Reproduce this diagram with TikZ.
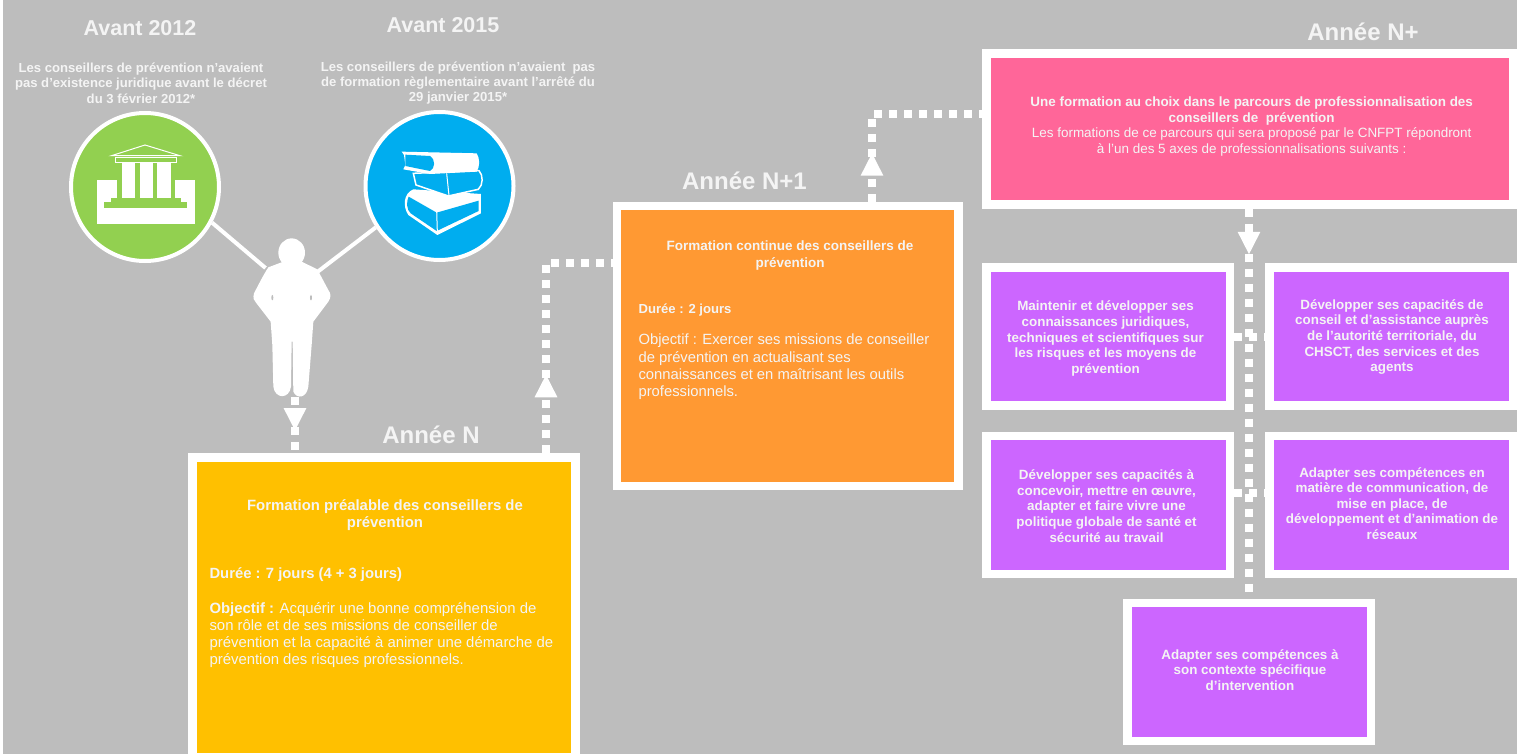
\documentclass[tikz,border=0pt]{standalone}
\usepackage{xcolor}
\usepackage{fontspec}
\setmainfont{Liberation Sans}
\usetikzlibrary{arrows.meta,decorations.markings}

\definecolor{fond}{HTML}{BDBDBD}
\definecolor{clair}{HTML}{F4F4F4}
\definecolor{vert}{HTML}{92D050}
\definecolor{bleu}{HTML}{00ADEF}
\definecolor{jaune}{HTML}{FFC000}
\definecolor{orange}{HTML}{FF9933}
\definecolor{rose}{HTML}{FF6699}
\definecolor{violet}{HTML}{CC66FF}

\tikzset{
    boite/.style={draw=white, line width=8.5pt, inner sep=0pt},
    axe/.style={boite, fill=violet, minimum width=243.5pt, minimum height=138pt},
    rond/.style={circle, draw=white, line width=4pt, inner sep=0pt, minimum size=148pt},
    lien/.style={white, line width=4pt},
    pointille/.style={white, line width=8pt, dash pattern=on 8pt off 7pt},
    fleche/.style={postaction={decorate}, decoration={markings,
        mark=at position #1 with {\arrow{Triangle[length=23pt,width=21pt]}}}},
    annee/.style={text=clair, font=\fontsize{24}{28}\selectfont\bfseries},
    avant/.style={text=clair, font=\fontsize{21.5}{24}\selectfont\bfseries},
    intro/.style={text=clair, align=center, font=\fontsize{13.1}{15.4}\selectfont\bfseries},
    titre/.style={text=clair, align=center, font=\fontsize{#1}{17}\selectfont\bfseries},
    corps/.style={text=clair, anchor=west, align=left, font=\fontsize{14.9}{17.2}\selectfont},
    axetxt/.style={text=clair, align=center, font=\fontsize{13.4}{15.6}\selectfont\bfseries}
}

\begin{document}
\begin{tikzpicture}[x=1pt,y=-1pt]
\useasboundingbox (0,0) rectangle (1517,754);
\fill[fond] (0,0) rectangle (1517,754);
\fill[white] (0,0) rectangle (3,754);

% Titres
\node[avant] (t2012) at (140,28) {Avant 2012};
\node[avant] (t2015) at (443,25) {Avant 2015};
\node[intro] (txt2012) at (141,83) {Les conseillers de prévention n'avaient\\pas d'existence juridique avant le décret\\du 3 février 2012*};
\node[intro] (txt2015) at (458,83) {Les conseillers de prévention n'avaient\ \ pas\\de formation règlementaire avant l'arrêté du\\29 janvier 2015*};

% Cercles
\node[rond, fill=vert] (cvert) at (145,187) {};
\node[rond, fill=bleu] (cbleu) at (439.5,186) {};

% Batiment
\fill[white] (97,180) rectangle (195,224);
\fill[vert] (116.5,163) rectangle (175,198.5);
\foreach \x in {121.5,139.5,157}
    \fill[white] (\x,163) rectangle (\x+13.5,198.5);
\fill[vert] (111,198.5) rectangle (181,202);
\fill[vert] (104,202) rectangle (187,207.5);
\draw[white, line width=1pt, fill=vert] (115.5,158) rectangle (176.5,163);
\draw[white, line width=1pt] (145,145) -- (111.5,155.7) -- (180,155.7) -- cycle;

% Livres
\begin{scope}[shift={(380,130)},x=0.3333pt,y=-0.3333pt]
\fill[white] (100,178) .. controls (70,190) and (68,230) .. (85,255) -- (172,315) -- (303,250) -- (303,192) -- cycle;
\fill[bleu] (86,200) .. controls (78,215) and (80,240) .. (92,250) -- (170,303) -- (296,243) -- (296,212) -- (170,248) -- cycle;
\draw[white, line width=1pt] (170,240) -- (172,305);
\draw[white, line width=1.5pt, fill=bleu] (100,130) -- (108,165) -- (205,198) -- (295,178) .. controls (310,165) and (310,135) .. (297,122) -- cycle;
\draw[white, line width=1pt] (200,130) -- (207,197);
\fill[white] (65,65) -- (290,70) .. controls (300,85) and (300,110) .. (290,125) -- (150,132) -- (70,118) -- (76,105) -- (72,75) -- cycle;
\fill[bleu] (76,74) -- (150,78) .. controls (168,90) and (165,115) .. (150,123) -- (76,108) -- cycle;
\end{scope}

% Silhouette
\begin{scope}[shift={(240,230)},x=0.3333pt,y=-0.3333pt]
\fill[white] (155,68) ellipse (40 and 43);
\fill[white] (130,95) -- (85,112) .. controls (70,135) and (55,165) .. (42,190) .. controls (38,205) and (42,212) .. (48,218) -- (92,275) -- (97,345) -- (100,470) .. controls (105,508) and (148,508) .. (153,470) -- (155,335) -- (158,335) -- (160,485) .. controls (170,508) and (200,505) .. (205,470) -- (215,345) -- (220,275) -- (265,215) .. controls (275,200) and (272,190) .. (265,180) -- (232,118) -- (185,95) -- cycle;
\fill[fond] (97,203) ellipse (3 and 8);
\fill[fond] (213,203) ellipse (3 and 8);
\end{scope}

\coordinate (epauleg) at (265.5,268);
\coordinate (epauled) at (318,271.5);
\coordinate (pieds) at (295,397);
\draw[lien] (cvert.-28) -- (epauleg);
\draw[lien] (cbleu.213) -- (epauled);

% Boites
\node[boite, fill=jaune, minimum width=383pt, minimum height=300pt] (bjaune) at (384,607.5) {};
\node[boite, fill=orange, minimum width=341.5pt, minimum height=280pt] (borange) at (787.5,346) {};
\node[boite, fill=rose, minimum width=526.5pt, minimum height=151pt] (brose) at (1249.5,129) {};
\foreach \nom/\x/\y in {axeA/1108/336.5,axeB/1391/336.5,axeC/1108/505,axeD/1391/505,axeE/1249/672}
    \node[axe] (\nom) at (\x,\y) {};

% Pointilles
\coordinate (coinA) at (546,263);
\coordinate (coinB) at (872,114);
\draw[pointille, fleche=34pt] (pieds) -- (pieds |- bjaune.north);
\draw[pointille, fleche=79pt] (coinA |- bjaune.north) -- (coinA) -- (borange.west |- coinA);
\draw[pointille, fleche=49pt] (coinB |- borange.north) -- (coinB) -- (brose.west |- coinB);
\draw[pointille, fleche=46pt] (brose.south -| axeE) -- (axeE.north);
\draw[pointille] (axeA.east) -- (axeB.west);
\draw[pointille] ([yshift=12pt]axeC.east) -- ([yshift=12pt]axeD.west);

% Annees
\node[annee] (tN) at (431,435) {Année N};
\node[annee] (tN1) at (744.5,181) {Année N+1};
\node[annee] (tNp) at (1363,32) {Année N+};

% Textes
\node[titre=14.9] (jtitre) at (385,515) {Formation préalable des conseillers de\\prévention};
\node[corps, font=\fontsize{14.8}{17.2}\selectfont\bfseries] (jduree) at (206,575) {Durée : 7 jours (4 + 3 jours)};
\node[corps] (jobj) at (206,635) {\textbf{Objectif :} Acquérir une bonne compréhension de\\son rôle et de ses missions de conseiller de\\prévention et la capacité à animer une démarche de\\prévention des risques professionnels.};
\node[titre=13.5] (otitre) at (790,255.5) {Formation continue des conseillers de\\prévention};
\node[corps, font=\fontsize{13.1}{15}\selectfont\bfseries] (oduree) at (635,310) {Durée : 2 jours};
\node[corps, font=\fontsize{14.8}{17.3}\selectfont] (oobj) at (635,367) {Objectif : Exercer ses missions de conseiller\\de prévention en actualisant ses\\connaissances et en maîtrisant les outils\\professionnels.};
\node[text=clair, align=center, font=\fontsize{13.45}{15.4}\selectfont] (rtxt) at (1251.7,126.5) {\textbf{Une formation au choix dans le parcours de professionnalisation des}\\\textbf{conseillers de\ \ prévention}\\Les formations de ce parcours qui sera proposé par le CNFPT répondront\\à l'un des 5 axes de professionnalisations suivants :};
\node[axetxt] (txtA) at (1105.5,338.5) {Maintenir et développer ses\\connaissances juridiques,\\techniques et scientifiques sur\\les risques et les moyens de\\prévention};
\node[axetxt] (txtB) at (1392,337) {Développer ses capacités de\\conseil et d'assistance auprès\\de l'autorité territoriale, du\\CHSCT, des services et des\\agents};
\node[axetxt] (txtC) at (1106.5,506) {Développer ses capacités à\\concevoir, mettre en œuvre,\\adapter et faire vivre une\\politique globale de santé et\\sécurité au travail};
\node[axetxt] (txtD) at (1392,503.5) {Adapter ses compétences en\\matière de communication, de\\mise en place, de\\développement et d'animation de\\réseaux};
\node[axetxt] (txtE) at (1250,670) {Adapter ses compétences à\\son contexte spécifique\\d'intervention};
\end{tikzpicture}
\end{document}
